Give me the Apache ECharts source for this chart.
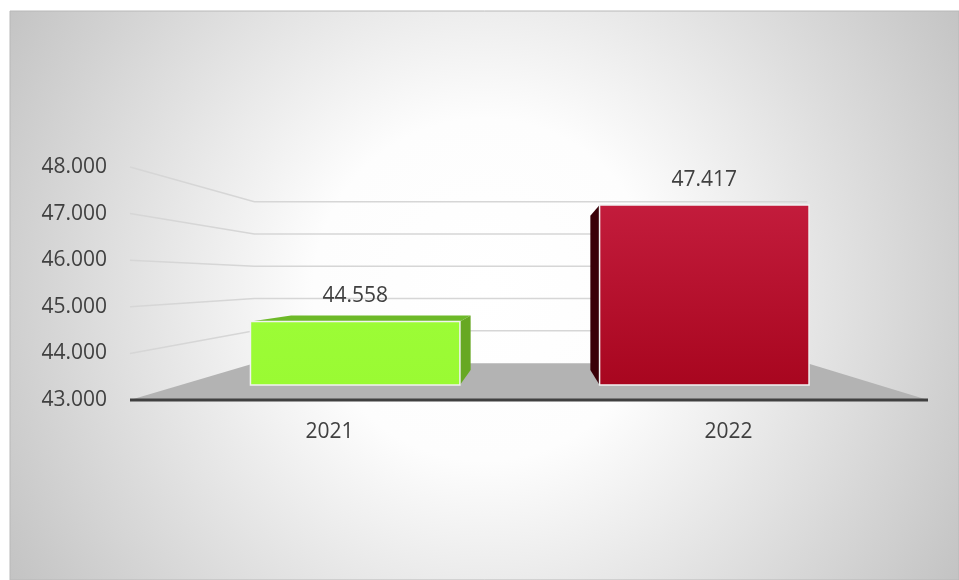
<!DOCTYPE html>
<html>
<head>
<meta charset="utf-8">
<script src="https://cdn.jsdelivr.net/npm/echarts@6/dist/echarts.min.js"></script>
<style>
  html, body { margin: 0; padding: 0; background: #fff; }
  #main { width: 959px; height: 580px; }
</style>
</head>
<body>
<div id="main"></div>
<script>
// 数据
const years = ['2021', '2022'];
const values = [44.558, 47.417];
const yTicks = [43, 44, 45, 46, 47, 48];
const frontColors = [['#9CFC36', '#9AFA33'], ['#C31C3C', '#A8061F']];
const sideColors = ['#67A823', '#3A0008'];
const topColors = ['#6DB928', '#8A0A22'];

// 透视参数 (像素)
const S_BACK = 0.693;   // 后墙
const S_FRONT_BAR = 0.875;
const S_BACK_BAR = 0.75;
const BAR_W = 0.6;
const FONT = 'Open Sans';

const chart = echarts.init(document.getElementById('main'));

function vp(api) {
  const p43 = api.coord([0.5, 43]);
  return [529 + 6, p43[1] - 120];
}
function proj(v, x, y, s) {
  return [v[0] + (x - v[0]) * s, v[1] + (y - v[1]) * s];
}

function renderScene(params, api) {
  const v = vp(api);
  const cs = params.coordSys;
  const x0 = cs.x, x1 = cs.x + cs.width;
  const children = [];
  if (params.dataIndex === 0) {
    const yb = api.coord([0, 43])[1];
    children.push({
      type: 'polygon',
      shape: { points: [[x0, yb], [x1, yb], proj(v, x1, yb, S_BACK), proj(v, x0, yb, S_BACK)] },
      style: { fill: '#b3b3b3' }
    });
    children.push({
      type: 'line',
      shape: { x1: x0, y1: yb, x2: x1, y2: yb },
      style: { stroke: '#404040', lineWidth: 3 }
    });
  } else {
    const y = api.coord([0, api.value(0)])[1];
    const a = proj(v, x0, y, S_BACK);
    const b = proj(v, x1, y, S_BACK);
    children.push({
      type: 'polyline',
      shape: { points: [[x0, y], a, [b[0], a[1]]] },
      style: { stroke: '#d6d6d6', lineWidth: 1.5, fill: null }
    });
  }
  return { type: 'group', children: children };
}

function renderBar(params, api) {
  const v = vp(api);
  const i = api.value(0);
  const val = api.value(1);
  const c = api.coord([i, val]);
  const base = api.coord([i, 43])[1];
  const w = api.size([1, 0])[0] * BAR_W;
  const l = c[0] - w / 2, r = c[0] + w / 2, t = c[1], b = base;
  const F = (x, y) => proj(v, x, y, S_FRONT_BAR);
  const B = (x, y) => proj(v, x, y, S_BACK_BAR);
  const children = [];
  if (t > v[1]) {
    children.push({ type: 'polygon', shape: { points: [F(l, t), F(r, t), B(r, t), B(l, t)] },
      style: { fill: topColors[i] } });
  }
  if (r < v[0]) {
    children.push({ type: 'polygon', shape: { points: [F(r, t), B(r, t), B(r, b), F(r, b)] },
      style: { fill: sideColors[i] } });
  }
  if (l > v[0]) {
    children.push({ type: 'polygon', shape: { points: [F(l, t), B(l, t), B(l, b), F(l, b)] },
      style: { fill: sideColors[i] } });
  }
  children.push({
    type: 'polygon',
    shape: { points: [F(l, t), F(r, t), F(r, b), F(l, b)] },
    style: {
      fill: new echarts.graphic.LinearGradient(0, 0, 0, 1, [
        { offset: 0, color: frontColors[i][0] },
        { offset: 1, color: frontColors[i][1] }
      ]),
      stroke: '#f2f2f2', lineWidth: 1.5
    }
  });
  const ft = F(c[0], t);
  children.push({
    type: 'text',
    x: ft[0], y: ft[1] - 25,
    style: {
      text: val.toFixed(3), fill: '#404040', fontSize: 21, fontFamily: FONT,
      align: 'center', verticalAlign: 'middle'
    }
  });
  return { type: 'group', children: children };
}

chart.setOption({
  animation: false,
  graphic: [{
    type: 'rect', z: -10, silent: true,
    shape: { x: 10, y: 11, width: 949, height: 569 },
    style: {
      fill: new echarts.graphic.RadialGradient(0.5, 0.49, 1.0, [
        { offset: 0, color: '#ffffff' },
        { offset: 0.3, color: '#fdfdfd' },
        { offset: 1, color: '#c1c1c1' }
      ]),
      stroke: '#b8b8b8', lineWidth: 1
    }
  }],
  grid: { left: 130, right: 31, top: 167, bottom: 180 },
  xAxis: {
    type: 'category',
    data: years,
    axisLine: { show: false },
    axisTick: { show: false },
    axisLabel: { color: '#404040', fontSize: 21, fontFamily: FONT, margin: 22 }
  },
  yAxis: {
    type: 'value',
    min: 43, max: 48, interval: 1,
    axisLine: { show: false },
    axisTick: { show: false },
    splitLine: { show: false },
    axisLabel: {
      color: '#404040', fontSize: 21, fontFamily: FONT, margin: 23,
      formatter: (x) => x.toFixed(3)
    }
  },
  series: [
    {
      type: 'custom', z: 1, silent: true,
      renderItem: renderScene,
      data: yTicks.map(t => [t]),
      encode: { y: 0 }
    },
    {
      type: 'custom', z: 2,
      renderItem: renderBar,
      data: values.map((val, k) => [k, val]),
      encode: { x: 0, y: 1 }
    }
  ]
});
</script>
</body>
</html>
